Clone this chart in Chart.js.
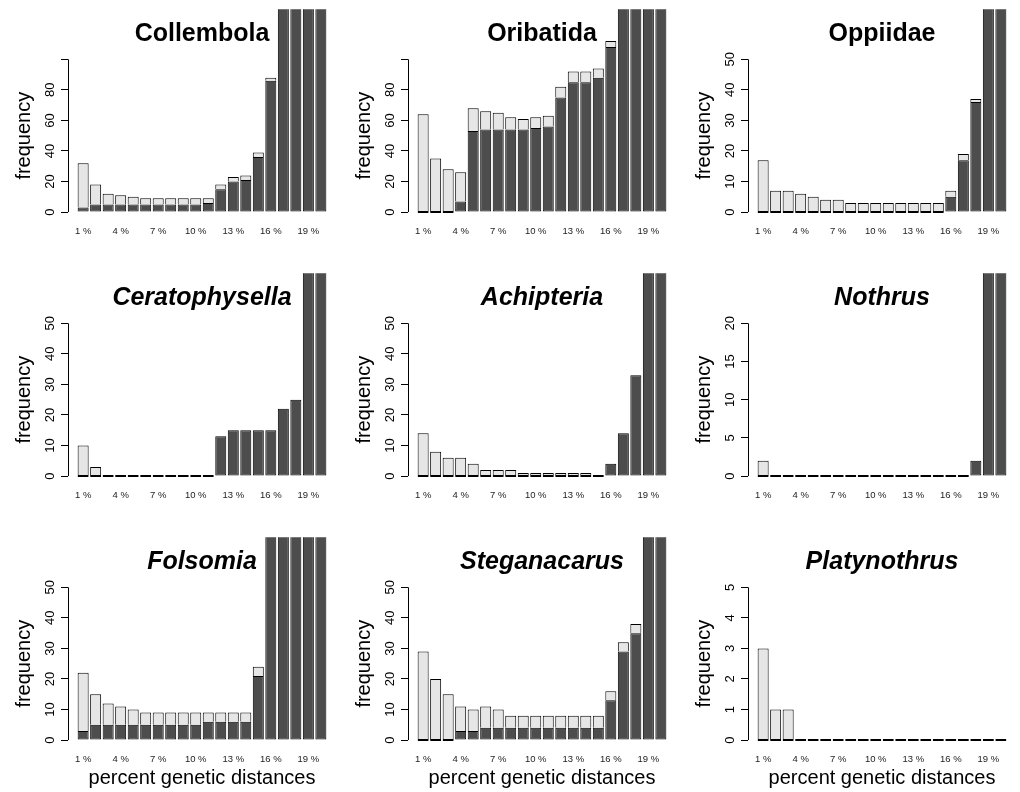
<!DOCTYPE html>
<html>
<head>
<meta charset="utf-8">
<script src="https://cdn.jsdelivr.net/npm/chart.js@4.4.0/dist/chart.umd.min.js"></script>
<style>
  body { margin: 0; background: #fff; }
  #grid { display: grid; grid-template-columns: repeat(3, 340px); grid-template-rows: repeat(3, 264px); width: 1020px; height: 792px; }
  canvas { display: block; }
</style>
</head>
<body>
<div id="grid"></div>
<script>
// distance classes and the labels R kept under the bars
const categories = ["1 %", "2 %", "3 %", "4 %", "5 %", "6 %", "7 %", "8 %", "9 %", "10 %",
  "11 %", "12 %", "13 %", "14 %", "15 %", "16 %", "17 %", "18 %", "19 %", "20 %"];
const tickLabels = ["1 %", "4 %", "7 %", "10 %", "13 %", "16 %", "19 %"];

// dark = interspecific, light = intraspecific (stacked on top)
const collembolaInter = [3, 5, 5, 5, 5, 5, 5, 5, 5, 5, 6, 15, 20, 21, 36, 86, 140, 180, 220, 260];
const collembolaIntra = [29, 13, 7, 6, 5, 4, 4, 4, 4, 4, 3, 3, 3, 3, 3, 2, 0, 0, 0, 0];
const oribatidaInter = [0, 0, 0, 7, 53, 54, 54, 54, 54, 55, 56, 75, 85, 85, 88, 108, 150, 190, 230, 270];
const oribatidaIntra = [64, 35, 28, 19, 15, 12, 11, 8, 7, 7, 7, 7, 7, 7, 6, 4, 0, 0, 0, 0];
const oppiidaeInter = [0, 0, 0, 0, 0, 0, 0, 0, 0, 0, 0, 0, 0, 0, 0, 5, 17, 36, 80, 120];
const oppiidaeIntra = [17, 7, 7, 6, 5, 4, 4, 3, 3, 3, 3, 3, 3, 3, 3, 2, 2, 1, 0, 0];
const ceratophysellaInter = [0, 0, 0, 0, 0, 0, 0, 0, 0, 0, 0, 13, 15, 15, 15, 15, 22, 25, 70, 110];
const ceratophysellaIntra = [10, 3, 0, 0, 0, 0, 0, 0, 0, 0, 0, 0, 0, 0, 0, 0, 0, 0, 0, 0];
const achipteriaInter = [0, 0, 0, 0, 0, 0, 0, 0, 0, 0, 0, 0, 0, 0, 0, 4, 14, 33, 70, 100];
const achipteriaIntra = [14, 8, 6, 6, 4, 2, 2, 2, 1, 1, 1, 1, 1, 1, 0, 0, 0, 0, 0, 0];
const nothrusInter = [0, 0, 0, 0, 0, 0, 0, 0, 0, 0, 0, 0, 0, 0, 0, 0, 0, 2, 35, 50];
const nothrusIntra = [2, 0, 0, 0, 0, 0, 0, 0, 0, 0, 0, 0, 0, 0, 0, 0, 0, 0, 0, 0];
const folsomiaInter = [3, 5, 5, 5, 5, 5, 5, 5, 5, 5, 6, 6, 6, 6, 21, 70, 100, 130, 160, 190];
const folsomiaIntra = [19, 10, 7, 6, 5, 4, 4, 4, 4, 4, 3, 3, 3, 3, 3, 0, 0, 0, 0, 0];
const steganacarusInter = [0, 0, 0, 3, 3, 4, 4, 4, 4, 4, 4, 4, 4, 4, 4, 13, 29, 35, 70, 100];
const steganacarusIntra = [29, 20, 15, 8, 7, 7, 6, 4, 4, 4, 4, 4, 4, 4, 4, 3, 3, 3, 0, 0];
const platynothrusInter = [0, 0, 0, 0, 0, 0, 0, 0, 0, 0, 0, 0, 0, 0, 0, 0, 0, 0, 0, 0];
const platynothrusIntra = [3, 1, 1, 0, 0, 0, 0, 0, 0, 0, 0, 0, 0, 0, 0, 0, 0, 0, 0, 0];

// y axis ticks per panel
const ticks100 = [0, 20, 40, 60, 80, 100];
const labels100 = ["0", "20", "40", "60", "80", ""];
const ticks50 = [0, 10, 20, 30, 40, 50];
const labels50 = ["0", "10", "20", "30", "40", "50"];
const ticks20 = [0, 5, 10, 15, 20];
const labels20 = ["0", "5", "10", "15", "20"];
const ticks5 = [0, 1, 2, 3, 4, 5];
const labels5 = ["0", "1", "2", "3", "4", "5"];

const panels = [
  { title: "Collembola", italic: false, inter: collembolaInter, intra: collembolaIntra, yTicks: ticks100, yLabels: labels100 },
  { title: "Oribatida", italic: false, inter: oribatidaInter, intra: oribatidaIntra, yTicks: ticks100, yLabels: labels100 },
  { title: "Oppiidae", italic: false, inter: oppiidaeInter, intra: oppiidaeIntra, yTicks: ticks50, yLabels: labels50 },
  { title: "Ceratophysella", italic: true, inter: ceratophysellaInter, intra: ceratophysellaIntra, yTicks: ticks50, yLabels: labels50 },
  { title: "Achipteria", italic: true, inter: achipteriaInter, intra: achipteriaIntra, yTicks: ticks50, yLabels: labels50 },
  { title: "Nothrus", italic: true, inter: nothrusInter, intra: nothrusIntra, yTicks: ticks20, yLabels: labels20 },
  { title: "Folsomia", italic: true, inter: folsomiaInter, intra: folsomiaIntra, yTicks: ticks50, yLabels: labels50, xTitle: true },
  { title: "Steganacarus", italic: true, inter: steganacarusInter, intra: steganacarusIntra, yTicks: ticks50, yLabels: labels50, xTitle: true },
  { title: "Platynothrus", italic: true, inter: platynothrusInter, intra: platynothrusIntra, yTicks: ticks5, yLabels: labels5, xTitle: true }
];

const FONT = "'Liberation Sans', Arial, Helvetica, sans-serif";
const DARK = "#4d4d4d";
const LIGHT = "#e6e6e6";
const W = 340, H = 264;
const PLOT_LEFT = 68, PLOT_RIGHT = 336, PLOT_BOTTOM = 218.2;
const TICK_FONT = 13;

// R barplot layout: bar width 1, space 0.2, xlim padded by 4 %
const barX = i => 0.7 + 1.2 * i;
const xMin = 0.2 - 0.04 * 23.8, xMax = 24 + 0.04 * 23.8;

const measure = document.createElement("canvas").getContext("2d");
function textWidth(s) {
  measure.font = TICK_FONT + "px " + FONT;
  return measure.measureText(s).width;
}

// axis line only between first and last tick, like R's axis()
const yAxisLine = {
  id: "yAxisLine",
  afterDraw(chart) {
    const s = chart.scales.y, ctx = chart.ctx;
    const x = Math.round(s.right) + 0.5;
    ctx.save();
    ctx.strokeStyle = "#000";
    ctx.lineWidth = 1;
    ctx.beginPath();
    ctx.moveTo(x, s.getPixelForValue(s.ticks[0].value));
    ctx.lineTo(x, s.getPixelForValue(s.ticks[s.ticks.length - 1].value));
    ctx.stroke();
    ctx.restore();
  }
};

const grid = document.getElementById("grid");

panels.forEach(p => {
  const canvas = document.createElement("canvas");
  canvas.width = W;
  canvas.height = H;
  grid.appendChild(canvas);

  const top = p.yTicks[p.yTicks.length - 1];
  const widest = Math.max(...p.yLabels.map(textWidth));
  const xTickIdx = tickLabels.map(l => categories.indexOf(l));

  const common = {
    borderColor: "#000",
    borderWidth: 1,
    barPercentage: 0.88,
    categoryPercentage: 1,
    clip: { left: 0, top: 44, right: 0, bottom: 6 }
  };

  new Chart(canvas, {
    type: "bar",
    data: {
      datasets: [
        Object.assign({
          label: "inter",
          data: p.inter.map((v, i) => ({ x: barX(i), y: v })),
          backgroundColor: DARK,
          borderSkipped: false,
          minBarLength: 2
        }, common),
        Object.assign({
          label: "intra",
          data: p.intra.map((v, i) => ({ x: barX(i), y: v })),
          backgroundColor: LIGHT,
          borderSkipped: "start"
        }, common)
      ]
    },
    options: {
      responsive: false,
      animation: false,
      layout: { padding: { left: 0, right: W - PLOT_RIGHT, top: 0, bottom: 0 } },
      plugins: {
        legend: { display: false },
        tooltip: { enabled: false },
        title: {
          display: true,
          text: p.title,
          fullSize: false,
          color: "#000",
          font: { family: FONT, size: 25, weight: "bold", style: p.italic ? "italic" : "normal", lineHeight: 1.2 },
          padding: { top: 19.3, bottom: 3.9 }
        }
      },
      scales: {
        x: {
          type: "linear",
          stacked: true,
          offset: false,
          min: xMin,
          max: xMax,
          grid: { display: false, drawTicks: false, offset: false },
          border: { display: false },
          afterBuildTicks: s => { s.ticks = xTickIdx.map(i => ({ value: barX(i) })); },
          afterFit: s => { s.height = H - PLOT_BOTTOM; },
          ticks: {
            autoSkip: false,
            maxRotation: 0,
            padding: 7.1,
            color: "#222",
            font: { family: FONT, size: 9.5 },
            callback: (v, i) => tickLabels[i]
          },
          title: {
            display: !!p.xTitle,
            text: "percent genetic distances",
            color: "#000",
            font: { family: FONT, size: 20 },
            padding: { top: 0, bottom: 2 }
          }
        },
        y: {
          stacked: true,
          min: -0.04 * top,
          max: 1.04 * top,
          afterBuildTicks: s => { s.ticks = p.yTicks.map(v => ({ value: v })); },
          afterFit: s => { s.width = PLOT_LEFT; },
          grid: { display: true, drawOnChartArea: false, drawTicks: true, tickLength: 7, color: "#000", lineWidth: 1 },
          border: { display: false },
          ticks: {
            minRotation: 90,
            maxRotation: 90,
            crossAlign: "center",
            padding: 11 - widest / 2,
            color: "#000",
            font: { family: FONT, size: TICK_FONT },
            callback: (v, i) => p.yLabels[i]
          },
          title: {
            display: true,
            text: "frequency",
            color: "#000",
            font: { family: FONT, size: 20 },
            padding: { top: 12, bottom: 0 }
          }
        }
      }
    },
    plugins: [yAxisLine]
  });
});
</script>
</body>
</html>
